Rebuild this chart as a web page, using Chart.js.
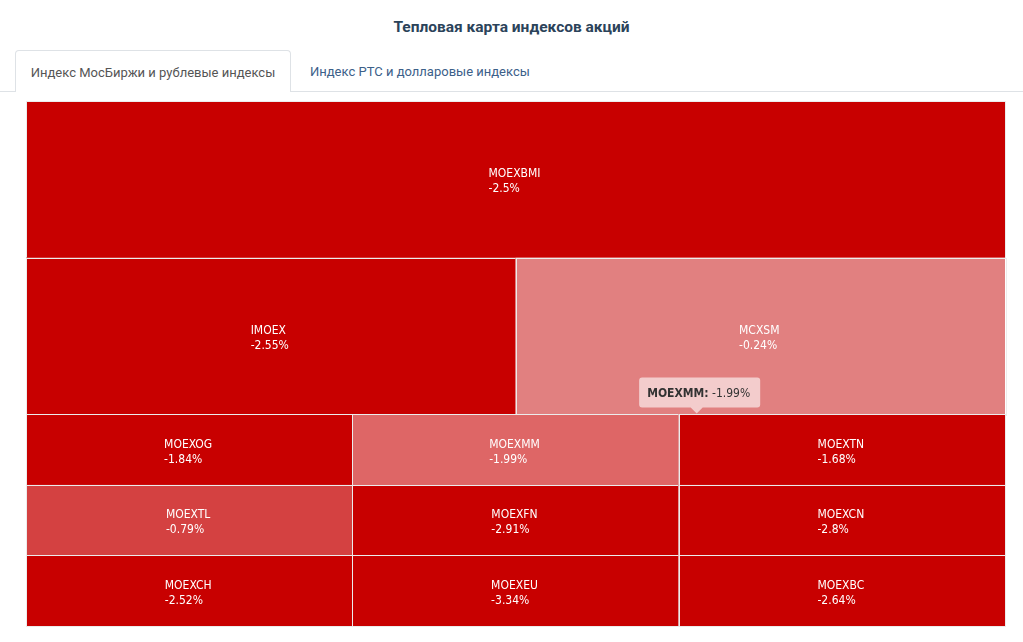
<!DOCTYPE html>
<html lang="ru">
<head>
<meta charset="utf-8">
<title>Тепловая карта индексов акций</title>
<script src="https://cdn.jsdelivr.net/npm/chart.js@4.4.1/dist/chart.umd.min.js"></script>
<style>
  html, body { margin: 0; padding: 0; background: #fff; }
  body { width: 1023px; height: 642px; position: relative; overflow: hidden; font-family: Roboto, 'Open Sans', sans-serif; }
  .title { position: absolute; top: 18px; left: 0; width: 1023px; text-align: center; font-size: 15.5px; font-weight: bold; color: #2b435a; }
  .tabs { position: absolute; top: 50px; left: 0; width: 1023px; height: 41px; border-bottom: 1px solid #dee2e6; }
  .tab { position: absolute; top: 0; height: 41px; line-height: 43px; font-size: 13px; box-sizing: border-box; }
  .tab.active { left: 15px; width: 276px; height: 42px; background: #fff; border: 1px solid #dee2e6; border-bottom: none; border-radius: 4px 4px 0 0; text-align: center; color: #555; }
  .tab.other { left: 310px; color: #3c6089; }
  .wrap { position: absolute; top: 92px; left: 0; width: 1023px; height: 550px; }
</style>
</head>
<body>
<div class="title">Тепловая карта индексов акций</div>
<div class="tabs">
  <div class="tab active">Индекс МосБиржи и рублевые индексы</div>
  <div class="tab other">Индекс РТС и долларовые индексы</div>
</div>
<div class="wrap"><canvas id="heatmap"></canvas></div>

<script>
// ------------------------------------------------------------
// Данные тепловой карты
// ------------------------------------------------------------
const tickers = ['MOEXBMI', 'IMOEX', 'MCXSM',
                 'MOEXOG', 'MOEXMM', 'MOEXTN',
                 'MOEXTL', 'MOEXFN', 'MOEXCN',
                 'MOEXCH', 'MOEXEU', 'MOEXBC'];
const changes = [-2.5, -2.55, -0.24,
                 -1.84, -1.99, -1.68,
                 -0.79, -2.91, -2.8,
                 -2.52, -3.34, -2.64];
const weights = [2, 1, 1,
                 0.3, 0.3, 0.3,
                 0.3, 0.3, 0.3,
                 0.3, 0.3, 0.3];
const rowSizes = [1, 2, 3, 3, 3];   // сколько плиток в каждой полосе
const hovered  = 'MOEXMM';

// цветовая шкала
const DARK  = [200, 0, 0];
const LIGHT = [230, 156, 156];
const COLOR_MIN = -1.35;

function colorFor(v, hover) {
  const t = Math.max(0, Math.min(1, v / COLOR_MIN));
  let c = LIGHT.map((l, i) => l + (DARK[i] - l) * t);
  if (hover) c = c.map(x => x + (255 - x) * 0.4);
  return `rgb(${c.map(Math.round).join(',')})`;
}

// полосная раскладка: высота полосы ~ сумме весов, ширина плитки ~ весу
function layout() {
  const total = weights.reduce((s, w) => s + w, 0);
  const cells = [];
  let idx = 0, y = 0;
  rowSizes.forEach(n => {
    const row = weights.slice(idx, idx + n);
    const rowSum = row.reduce((s, w) => s + w, 0);
    const h = rowSum / total;
    let x = 0;
    row.forEach(w => {
      const wd = w / rowSum;
      cells.push({ i: idx, x0: x, x1: x + wd, y0: y, y1: y + h });
      x += wd; idx++;
    });
    y += h;
  });
  return cells;
}
const cells = layout();

const LABEL_FONT = '12px "DejaVu Sans Condensed", Roboto, sans-serif';
const BOLD_FONT  = 'bold 12px "DejaVu Sans Condensed", Roboto, sans-serif';

const treemapPlugin = {
  id: 'treemap',
  beforeDatasetsDraw(chart) {
    const { ctx, scales: { x, y } } = chart;
    ctx.save();
    cells.forEach(c => {
      const l = x.getPixelForValue(c.x0), r = x.getPixelForValue(c.x1);
      const t = y.getPixelForValue(c.y0), b = y.getPixelForValue(c.y1);
      ctx.fillStyle = colorFor(changes[c.i], tickers[c.i] === hovered);
      ctx.fillRect(l, t, r - l, b - t);
      ctx.strokeStyle = '#ececec';
      ctx.lineWidth = 1;
      ctx.strokeRect(Math.round(l) + 0.5, Math.round(t) + 0.5, Math.round(r - l), Math.round(b - t));
    });
    // подписи
    ctx.font = LABEL_FONT;
    ctx.fillStyle = '#fff';
    ctx.textBaseline = 'middle';
    ctx.textAlign = 'left';
    cells.forEach(c => {
      const cx = (x.getPixelForValue(c.x0) + x.getPixelForValue(c.x1)) / 2;
      const cy = (y.getPixelForValue(c.y0) + y.getPixelForValue(c.y1)) / 2;
      const l1 = tickers[c.i], l2 = changes[c.i] + '%';
      const w = Math.max(ctx.measureText(l1).width, ctx.measureText(l2).width);
      ctx.fillText(l1, cx - w / 2 - 1, cy - 5);
      ctx.fillText(l2, cx - w / 2 - 1, cy + 10);
    });
    ctx.restore();
  },
  afterDraw(chart) {
    const c = cells.find(c => tickers[c.i] === hovered);
    if (!c) return;
    const { ctx, scales: { x, y } } = chart;
    const ax = x.getPixelForValue(c.x1) + 18;
    const ay = y.getPixelForValue(c.y0);
    const bold = tickers[c.i] + ':';
    const rest = ' ' + changes[c.i] + '%';
    ctx.save();
    ctx.font = BOLD_FONT;
    const wb = ctx.measureText(bold).width;
    ctx.font = LABEL_FONT;
    const wr = ctx.measureText(rest).width;
    const bw = wb + wr + 18, bh = 30;
    const bx = ax - bw / 2 + 3, by = ay - 7 - bh;
    ctx.fillStyle = 'rgba(255,255,255,0.6)';
    ctx.beginPath();
    ctx.roundRect(bx, by, bw, bh, 3);
    ctx.moveTo(ax - 6, by + bh);
    ctx.lineTo(ax, by + bh + 6);
    ctx.lineTo(ax + 6, by + bh);
    ctx.closePath();
    ctx.fill();
    ctx.fillStyle = '#333';
    ctx.textBaseline = 'middle';
    ctx.font = BOLD_FONT;
    ctx.fillText(bold, bx + 8, by + bh / 2 + 1);
    ctx.font = LABEL_FONT;
    ctx.fillText(rest, bx + 8 + wb, by + bh / 2 + 1);
    ctx.restore();
  }
};

new Chart(document.getElementById('heatmap'), {
  type: 'scatter',
  data: {
    datasets: [{
      data: cells.map(c => ({ x: (c.x0 + c.x1) / 2, y: (c.y0 + c.y1) / 2 })),
      pointRadius: 0,
      pointHoverRadius: 0,
    }],
  },
  options: {
    responsive: true, maintainAspectRatio: false,
    animation: false,
    layout: { padding: { left: 26, right: 18, top: 9, bottom: 16 } },
    scales: {
      x: { type: 'linear', min: 0, max: 1, display: false },
      y: { type: 'linear', min: 0, max: 1, reverse: true, display: false },
    },
    plugins: { legend: { display: false }, tooltip: { enabled: false } },
  },
  plugins: [treemapPlugin],
});
</script>
</body>
</html>
